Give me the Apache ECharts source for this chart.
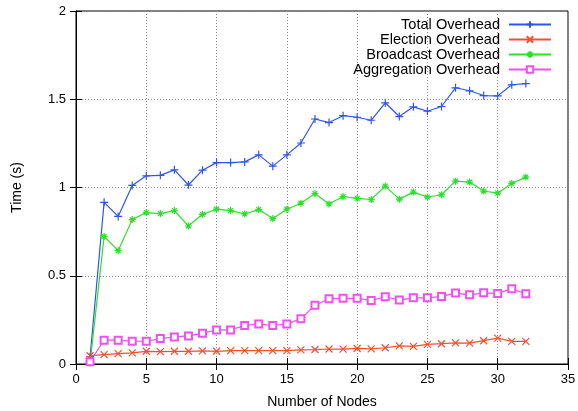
<!DOCTYPE html>
<html>
<head>
<meta charset="utf-8">
<script src="https://cdn.jsdelivr.net/npm/echarts@6/dist/echarts.min.js"></script>
<style>
  html, body { margin: 0; padding: 0; background: #fff; }
  #chart { width: 578px; height: 411px; }
</style>
</head>
<body>
<div id="chart"></div>
<script>
// Number of nodes in the network
const nodes = [1, 2, 3, 4, 5, 6, 7, 8, 9, 10, 11, 12, 13, 14, 15, 16,
               17, 18, 19, 20, 21, 22, 23, 24, 25, 26, 27, 28, 29, 30, 31, 32];

// Measured times in seconds
const totalOverhead = [0.04, 0.916, 0.836, 1.012, 1.066, 1.069, 1.100, 1.014, 1.098, 1.141, 1.141, 1.145,
  1.185, 1.121, 1.185, 1.252, 1.388, 1.368, 1.407, 1.398, 1.381, 1.480, 1.402, 1.457,
  1.432, 1.459, 1.565, 1.548, 1.521, 1.519, 1.582, 1.589];
const electionOverhead = [0.047, 0.053, 0.059, 0.063, 0.072, 0.070, 0.072, 0.072, 0.074, 0.072, 0.076, 0.076,
  0.076, 0.076, 0.076, 0.080, 0.082, 0.085, 0.084, 0.088, 0.086, 0.092, 0.103, 0.100,
  0.111, 0.115, 0.120, 0.118, 0.132, 0.147, 0.128, 0.128];
const broadcastOverhead = [0.005, 0.723, 0.642, 0.818, 0.858, 0.852, 0.869, 0.782, 0.848, 0.877, 0.869, 0.850,
  0.875, 0.824, 0.877, 0.911, 0.966, 0.907, 0.949, 0.938, 0.932, 1.008, 0.934, 0.974,
  0.946, 0.959, 1.036, 1.031, 0.980, 0.968, 1.023, 1.059];
const aggregationOverhead = [0.013, 0.135, 0.135, 0.129, 0.129, 0.144, 0.153, 0.159, 0.174, 0.193, 0.193, 0.218,
  0.227, 0.218, 0.227, 0.256, 0.333, 0.370, 0.372, 0.372, 0.360, 0.381, 0.362, 0.375,
  0.375, 0.383, 0.402, 0.392, 0.403, 0.400, 0.426, 0.398];

const seriesNames = ['Total Overhead', 'Election Overhead', 'Broadcast Overhead', 'Aggregation Overhead'];
const xTicks = { min: 0, max: 35, interval: 5 };
const yTicks = { min: 0, max: 2, interval: 0.5 };

const colors = ['#2f55ee', '#f4502e', '#2be02b', '#f050f0'];
const symbols = [
  'path://M0,5L10,5M5,0L5,10',
  'path://M1,1L9,9M9,1L1,9',
  'path://M0,5L10,5M5,0L5,10M1.5,1.5L8.5,8.5M8.5,1.5L1.5,8.5',
  'emptyRect'
];
const symbolSizes = [8, 7, 7, 7];
const values = [totalOverhead, electionOverhead, broadcastOverhead, aggregationOverhead];

const font = '"Liberation Sans", Arial, Helvetica, sans-serif';
const gridLine = { show: true, lineStyle: { color: '#8a8a8a', type: [1, 2], width: 1 } };

const series = seriesNames.map((name, i) => ({
  name: name,
  type: 'line',
  data: nodes.map((n, k) => [n, values[i][k]]),
  symbol: symbols[i],
  symbolSize: symbolSizes[i],
  showAllSymbol: true,
  lineStyle: { color: colors[i], width: 1.2 },
  itemStyle: {
    color: colors[i],
    borderColor: colors[i],
    borderWidth: i === 3 ? 1 : 1.2
  },
  emphasis: { disabled: true },
  animation: false
}));

// One legend block per series so each row is right-aligned against the sample line
const legends = seriesNames.map((name, i) => ({
  data: [name],
  orient: 'vertical',
  align: 'right',
  right: 26,
  top: 17 + i * 15,
  itemWidth: 42,
  itemHeight: 8,
  padding: 0,
  textStyle: { fontFamily: font, fontSize: 14.6, color: '#000', padding: [0, 4, 0, 0] },
  selectedMode: false
}));

const chart = echarts.init(document.getElementById('chart'), null, { renderer: 'canvas' });
chart.setOption({
  backgroundColor: '#fff',
  animation: false,
  color: colors,
  grid: {
    left: 76, right: 10, top: 11, bottom: 47,
    outerBoundsMode: 'none',
    containLabel: false,
    show: true, borderColor: '#000', borderWidth: 1, backgroundColor: 'transparent'
  },
  legend: legends,
  xAxis: [{
    type: 'value',
    min: xTicks.min, max: xTicks.max, interval: xTicks.interval,
    name: 'Number of Nodes',
    nameLocation: 'middle',
    nameGap: 31,
    nameTextStyle: { fontFamily: font, fontSize: 14, color: '#000' },
    axisLine: { show: true, lineStyle: { color: '#000', width: 1 } },
    axisTick: { show: true, inside: true, length: 6, lineStyle: { color: '#000' } },
    axisLabel: { fontFamily: font, fontSize: 13, color: '#000', margin: 9 },
    splitLine: gridLine
  }, {
    type: 'value', position: 'top',
    min: xTicks.min, max: xTicks.max, interval: xTicks.interval,
    axisLine: { show: false },
    axisTick: { show: true, inside: true, length: 6, lineStyle: { color: '#000' } },
    axisLabel: { show: false },
    splitLine: { show: false }
  }],
  yAxis: [{
    type: 'value',
    min: yTicks.min, max: yTicks.max, interval: yTicks.interval,
    name: 'Time (s)',
    nameLocation: 'middle',
    nameGap: 52,
    nameRotate: 90,
    nameTextStyle: { fontFamily: font, fontSize: 14, color: '#000' },
    axisLine: { show: true, lineStyle: { color: '#000', width: 1 } },
    axisTick: { show: true, inside: true, length: 6, lineStyle: { color: '#000' } },
    axisLabel: { fontFamily: font, fontSize: 13, color: '#000', margin: 10 },
    splitLine: gridLine
  }, {
    type: 'value', position: 'right',
    min: yTicks.min, max: yTicks.max, interval: yTicks.interval,
    axisLine: { show: false },
    axisTick: { show: true, inside: true, length: 6, lineStyle: { color: '#000' } },
    axisLabel: { show: false },
    splitLine: { show: false }
  }],
  series: series
});
</script>
</body>
</html>
